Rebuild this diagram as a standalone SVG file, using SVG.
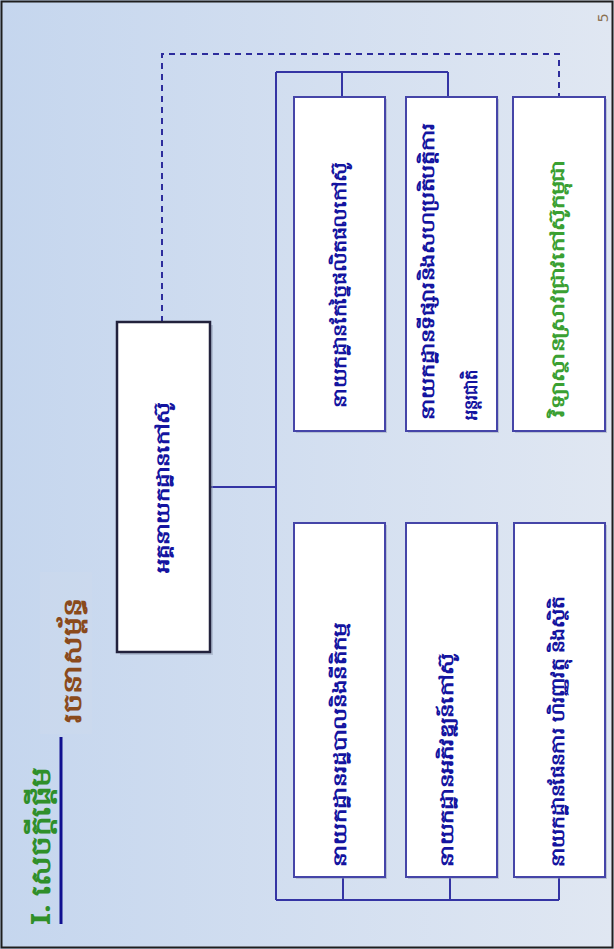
<svg xmlns="http://www.w3.org/2000/svg" width="614" height="949" viewBox="0 0 614 949">
<defs>
<linearGradient id="bg" x1="0" y1="0" x2="1" y2="0">
<stop offset="0" stop-color="#c5d6ee"/>
<stop offset="1" stop-color="#e0e7f2"/>
</linearGradient>
<style>
.box{fill:#ffffff;stroke:#4545a8;stroke-width:2}
.shadow{fill:#8f98b0;opacity:0.45}
.main{fill:#ffffff;stroke:#22223c;stroke-width:2.5}
.conn{fill:none;stroke:#3434a4;stroke-width:2}
.dash{fill:none;stroke:#2c2c9c;stroke-width:2;stroke-dasharray:6,5}
.t{font-family:"Noto Sans","DejaVu Sans",sans-serif;font-weight:bold;font-size:18px;fill:#1414a0;dominant-baseline:central}
.g{fill:#3aa032}
</style>
</defs>
<rect x="0" y="0" width="614" height="949" fill="url(#bg)"/>
<rect x="40" y="572" width="52" height="162" fill="#d2dcec" opacity="0.3"/>
<rect x="1.5" y="1.5" width="611" height="946" fill="none" stroke="#1e1e1e" stroke-width="2"/>

<g id="title">
<text x="39" y="925" transform="rotate(-90 39 925)" font-family="'Noto Sans','DejaVu Sans',sans-serif" font-weight="bold" font-size="27" fill="#2f8f2a" dominant-baseline="central" textLength="158" lengthAdjust="spacingAndGlyphs">I. សេចក្ដីផ្ដើម</text>
<line x1="61" y1="737" x2="61" y2="924" stroke="#101090" stroke-width="3"/>
<text x="71" y="723" transform="rotate(-90 71 723)" font-family="'Noto Sans','DejaVu Sans',sans-serif" font-weight="bold" font-size="25" fill="#8a4a1c" dominant-baseline="central" textLength="125" lengthAdjust="spacingAndGlyphs">រចនាសម្ព័ន្ធ</text>
<text x="602" y="18" transform="rotate(-90 602 18)" font-family="'Noto Sans','DejaVu Sans',sans-serif" font-size="15" fill="#8a7050" text-anchor="middle" dominant-baseline="central">5</text>
</g>

<g id="connectors">
<path class="dash" d="M162 322 V54 H559 V97"/>
<path class="conn" d="M210 487 H276 M276 72 V900 M276 72 H448 M342 72 V97 M448 72 V97 M276 900 H559 M343 877 V900 M450 877 V900 M559 877 V900"/>
</g>

<g id="main">
<rect class="shadow" x="120" y="325" width="93" height="330"/>
<rect class="main" x="117" y="322" width="93" height="330"/>
<text class="t" x="162" y="573" transform="rotate(-90 162 573)" textLength="171" lengthAdjust="spacingAndGlyphs">អគ្គនាយកដ្ឋានកៅស៊ូ</text>
</g>

<g id="boxA">
<rect class="shadow" x="296" y="99" width="91" height="334"/>
<rect class="box" x="294" y="97" width="91" height="334"/>
<text class="t" x="339" y="408" transform="rotate(-90 339 408)" textLength="246" lengthAdjust="spacingAndGlyphs">នាយកដ្ឋានកែច្នៃផលិតផលកៅស៊ូ</text>
</g>

<g id="boxB">
<rect class="shadow" x="408" y="99" width="91" height="334"/>
<rect class="box" x="406" y="97" width="91" height="334"/>
<text class="t" x="427" y="420" transform="rotate(-90 427 420)" textLength="297" lengthAdjust="spacingAndGlyphs">នាយកដ្ឋានទីផ្សារនិងសហប្រតិបត្តិការ</text>
<text class="t" x="470" y="420" transform="rotate(-90 470 420)" textLength="50" lengthAdjust="spacingAndGlyphs">អន្តរជាតិ</text>
</g>

<g id="boxC">
<rect class="shadow" x="515" y="99" width="92" height="334"/>
<rect class="box" x="513" y="97" width="92" height="334"/>
<text class="t g" x="557" y="417" transform="rotate(-90 557 417)" textLength="257" lengthAdjust="spacingAndGlyphs">វិទ្យាស្ថានស្រាវជ្រាវកៅស៊ូកម្ពុជា</text>
</g>

<g id="boxD">
<rect class="shadow" x="296" y="525" width="91" height="354"/>
<rect class="box" x="294" y="523" width="91" height="354"/>
<text class="t" x="339" y="867" transform="rotate(-90 339 867)" textLength="244" lengthAdjust="spacingAndGlyphs">នាយកដ្ឋានរដ្ឋបាលនិងនីតិកម្ម</text>
</g>

<g id="boxE">
<rect class="shadow" x="408" y="525" width="91" height="354"/>
<rect class="box" x="406" y="523" width="91" height="354"/>
<text class="t" x="446" y="867" transform="rotate(-90 446 867)" textLength="214" lengthAdjust="spacingAndGlyphs">នាយកដ្ឋានអភិវឌ្ឍន៍កៅស៊ូ</text>
</g>

<g id="boxF">
<rect class="shadow" x="516" y="525" width="91" height="354"/>
<rect class="box" x="514" y="523" width="91" height="354"/>
<text class="t" x="557" y="867" transform="rotate(-90 557 867)" textLength="270" lengthAdjust="spacingAndGlyphs">នាយកដ្ឋានផែនការ ហិរញ្ញវត្ថុ និងស្ថិតិ</text>
</g>
</svg>
